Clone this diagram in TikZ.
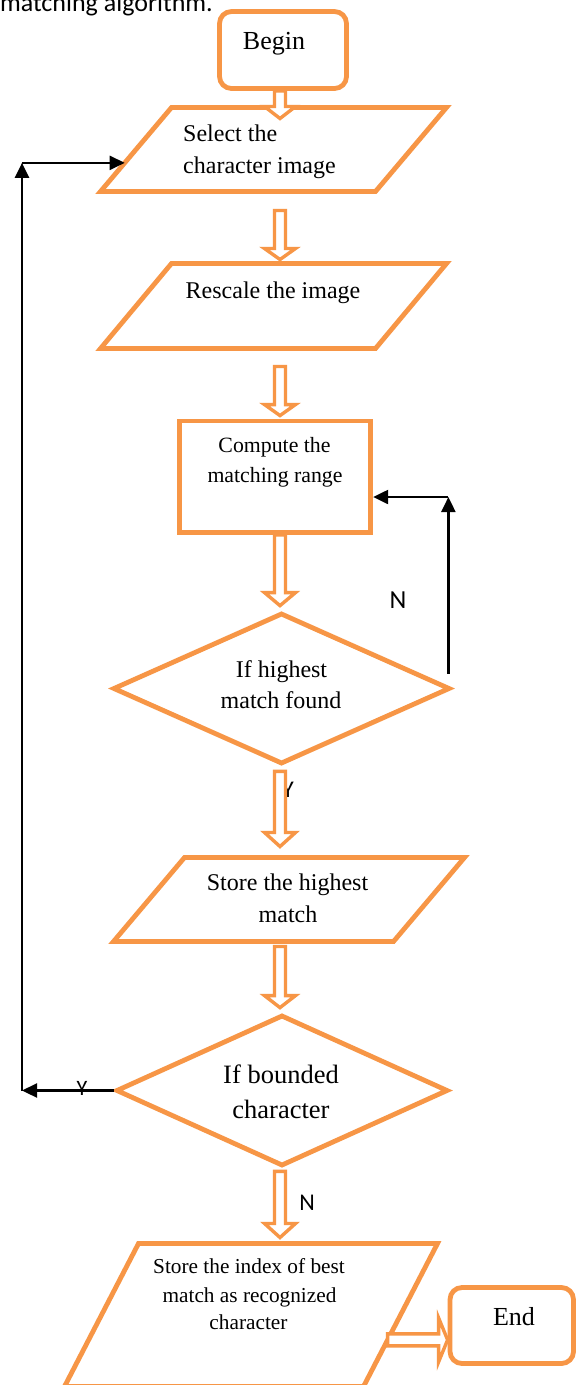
\documentclass[tikz,border=0pt]{standalone}
\usepackage{fontspec}
\setmainfont{Liberation Serif}
\newfontfamily\calib{Carlito}
\usetikzlibrary{shapes.geometric,calc,arrows.meta}
\definecolor{acc}{HTML}{F79646}
\tikzset{
  shp/.style={draw=acc, line width=4.8pt, line join=miter, fill=white},
  pbox/.style={draw=none, inner sep=0pt, outer sep=0pt},
  hollow/.style={draw=acc, line width=3.4pt, line join=miter, fill=white},
  blk/.style={draw=black, line width=2.2pt, -{Triangle[length=15pt,width=14pt]}},
  tx/.style={inner sep=0pt, anchor=base},
  t21/.style={tx, font=\fontsize{21.3}{25}\selectfont},
  t22/.style={tx, font=\fontsize{21.8}{26}\selectfont},
  t24/.style={tx, font=\fontsize{24}{28}\selectfont},
  t26/.style={tx, font=\fontsize{26}{30}\selectfont},
  t26b/.style={tx, font=\fontsize{26.5}{30}\selectfont},
  sans/.style={tx, font=\calib\fontsize{26}{30}\selectfont},
}
\newcommand\hdown[3]{\draw[hollow] let \p1=#1, \p2=#2 in
  (\x1-5.5pt,\y1) -- (\x1-5.5pt,\y2+#3pt) -- (\x1-15.5pt,\y2+#3pt) -- (\x1,\y2)
  -- (\x1+15.5pt,\y2+#3pt) -- (\x1+5.5pt,\y2+#3pt) -- (\x1+5.5pt,\y1) -- cycle;}
\newcommand\hright[3]{\draw[hollow] let \p1=#1, \p2=#2 in
  (\x1,\y1+6pt) -- (\x2-#3pt,\y1+6pt) -- (\x2-#3pt,\y1+22pt) -- (\x2,\y1)
  -- (\x2-#3pt,\y1-22pt) -- (\x2-#3pt,\y1-6pt) -- (\x1,\y1-6pt) -- cycle;}
\newcommand\para[2]{\draw[shp] ([xshift=#2pt]#1.north west) -- (#1.north east)
  -- ([xshift=-#2pt]#1.south east) -- (#1.south west) -- cycle;}
\begin{document}
\begin{tikzpicture}[x=1pt,y=-1pt]
\useasboundingbox (0,0) rectangle (577,1385);
\clip (0,0) rectangle (577,1385);
\fill[white] (0,0) rectangle (577,1385);
\coordinate (spine) at (280,0);
\coordinate (leftx) at (22,0);

% caption fragment (cut off at the top edge, as in the reference)
\node[sans, anchor=base east] (cap) at (213,11) {matching algorithm.};

% shapes
\node[shp, rectangle, rounded corners=12pt, minimum width=127pt, minimum height=77pt] (begin) at (283,50) {};
\node[pbox, minimum width=346pt, minimum height=84pt] (sel) at (273.5,149.5) {};
\para{sel}{71}
\node[pbox, minimum width=346pt, minimum height=85pt] (rsc) at (273.5,306) {};
\para{rsc}{71}
\node[shp, rectangle, minimum width=191.5pt, minimum height=111.5pt] (comp) at (275,476.7) {};
\node[shp, diamond, minimum width=337pt, minimum height=151pt, inner sep=0pt] (d1) at (281.5,688.5) {};
\node[pbox, minimum width=351pt, minimum height=84pt] (shigh) at (289,899.5) {};
\para{shigh}{71}
\node[shp, diamond, minimum width=332pt, minimum height=151pt, inner sep=0pt] (d2) at (282,1090.5) {};
\node[pbox, minimum width=373pt, minimum height=143pt] (idx) at (251,1315) {};
\para{idx}{74}
\node[shp, rectangle, rounded corners=12pt, minimum width=123.5pt, minimum height=76pt] (end) at (511.75,1325.5) {};

% label partly hidden behind hollow arrow
\node[sans, font=\calib\fontsize{24}{28}\selectfont] (ylab1) at (288,797) {Y};

% hollow arrows
\hdown{(begin.south -| spine)}{($(sel.north -| spine)+(0,11)$)}{12}
\hdown{($(sel.south -| spine)+(0,19)$)}{($(rsc.north -| spine)+(0,-4)$)}{11}
\hdown{($(rsc.south -| spine)+(0,18)$)}{($(comp.north -| spine)+(0,-3)$)}{11}
\hdown{(comp.south -| spine)}{($(d1.north -| spine)+(0,-5)$)}{13}
\hdown{($(d1.south -| spine)+(0,5)$)}{($(shigh.north -| spine)+(0,-11)$)}{14}
\hdown{($(shigh.south -| spine)+(0,5)$)}{($(d2.north -| spine)+(0,-5)$)}{12}
\hdown{($(d2.south -| spine)+(0,3)$)}{($(idx.north -| spine)+(0,-6)$)}{14}
\coordinate (idxout) at ($(idx.north east)!0.674!([xshift=-74pt]idx.south east)$);
\coordinate (endin) at ($(end.west)+(0,14.5)$);
\hright{(idxout)}{(idxout -| endin)}{9}

% black connectors
\coordinate (nstart) at ($(d1.east)+(-4,-15)$);
\coordinate (compin) at ($(comp.east)+(0,20.3)$);
\coordinate (ncorner) at (nstart |- compin);
\draw[blk] (nstart) -- (ncorner);
\draw[blk] (ncorner) -- (compin);
\coordinate (selin) at ($([xshift=71pt]sel.north west)!0.659!(sel.south west)$);
\coordinate (ybot) at (leftx |- d2.west);
\coordinate (ytop) at (leftx |- selin);
\draw[blk] (d2.west) -- (ybot);
\draw[blk] (ybot) -- (ytop);
\draw[blk] (ytop) -- (selin);

% texts
\node[t26] (tbegin) at (274,49) {Begin};
\node[t24, anchor=base west] (tsel1) at (183,141) {Select the};
\node[t24, anchor=base west] (tsel2) at (183,173) {character image};
\node[t24] (trsc) at (273,298) {Rescale the image};
\node[t22] (tcomp1) at (274.5,452) {Compute the};
\node[t22] (tcomp2) at (275,482) {matching range};
\node[t24] (td11) at (281.5,677) {If highest};
\node[t24] (td12) at (281,708) {match found};
\node[t24] (tsh1) at (287.5,890) {Store the highest};
\node[t24] (tsh2) at (288,922) {match};
\node[t26b] (td21) at (281,1083) {If bounded};
\node[t26b] (td22) at (281,1118) {character};
\node[t21] (tidx1) at (249,1273) {Store the index of best};
\node[t21] (tidx2) at (249.5,1302) {match as recognized};
\node[t21] (tidx3) at (248.5,1329) {character};
\node[t26] (tend) at (514,1325) {End};
\node[sans] (nlab1) at (398,608) {N};
\node[sans, font=\calib\fontsize{24}{28}\selectfont] (nlab2) at (307,1210) {N};
\node[sans, font=\calib\fontsize{22}{26}\selectfont] (ylab2) at (82,1095) {Y};
\end{tikzpicture}
\end{document}
